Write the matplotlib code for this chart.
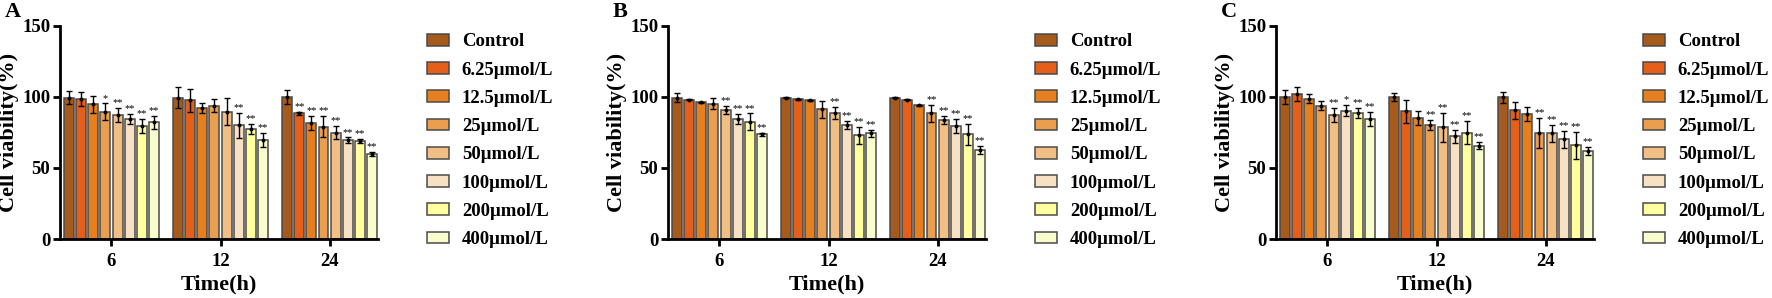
import matplotlib
matplotlib.use("Agg")
from matplotlib import pyplot as plt
import numpy as np

plt.rcParams['font.family'] = ['Liberation Serif', 'DejaVu Serif']
plt.rcParams['font.weight'] = 'bold'

times = ['6', '12', '24']
groups = ['Control', '6.25μmol/L', '12.5μmol/L', '25μmol/L',
          '50μmol/L', '100μmol/L', '200μmol/L', '400μmol/L']
colors = ['#A65A1C', '#E35F1A', '#E6801F', '#EA9F4F',
          '#F1BE84', '#F8E0C3', '#FFFF9E', '#F8FDCB']

# mean values, rows = time points, cols = groups
a_mean = [[99.6, 98.4, 95.0, 89.5, 87.2, 84.8, 79.4, 82.3],
          [99.6, 97.7, 92.0, 94.0, 89.5, 80.0, 77.3, 70.0],
          [100.0, 88.4, 81.8, 79.0, 75.0, 69.6, 69.0, 60.0]]
a_err = [[4.7, 5.0, 6.0, 6.0, 5.0, 3.5, 5.0, 4.5],
         [7.5, 8.0, 3.5, 4.5, 9.5, 9.0, 3.5, 5.0],
         [5.0, 1.0, 5.0, 7.5, 4.5, 2.0, 1.5, 1.5]]
a_sig = [['', '', '', '*', '**', '**', '**', '**'],
         ['', '', '', '', '', '**', '**', '**'],
         ['', '**', '**', '**', '**', '**', '**', '**']]

b_mean = [[99.6, 98.2, 96.3, 95.4, 90.7, 84.8, 82.5, 73.6],
          [99.6, 98.4, 97.7, 91.2, 88.8, 80.2, 73.1, 74.3],
          [99.6, 98.2, 94.2, 88.4, 83.7, 79.4, 73.6, 62.6]]
b_err = [[3.0, 0.5, 0.5, 4.0, 3.0, 3.5, 6.0, 1.0],
         [0.5, 0.5, 0.5, 6.0, 4.0, 3.0, 6.0, 2.5],
         [0.3, 0.5, 0.5, 6.0, 3.0, 5.0, 7.5, 3.0]]
b_sig = [['', '', '', '', '**', '**', '**', '**'],
         ['', '', '', '', '**', '**', '**', '**'],
         ['', '', '', '**', '**', '**', '**', '**']]

c_mean = [[100.0, 102.0, 98.8, 94.0, 87.5, 90.4, 88.7, 84.5],
          [100.0, 89.9, 85.2, 80.5, 78.6, 72.2, 75.0, 65.6],
          [99.8, 90.6, 88.2, 74.6, 74.6, 70.4, 66.1, 62.1]]
c_err = [[5.0, 5.0, 3.0, 3.0, 5.0, 4.0, 3.5, 5.0],
         [3.0, 8.0, 5.0, 3.5, 10.0, 4.5, 8.0, 2.5],
         [4.0, 6.0, 5.0, 10.5, 6.0, 6.0, 9.5, 3.0]]
c_sig = [['', '', '', '', '**', '*', '**', '**'],
         ['', '', '', '**', '**', '**', '**', '**'],
         ['', '', '', '**', '**', '**', '**', '**']]

panels = [('A', a_mean, a_err, a_sig, 60),
          ('B', b_mean, b_err, b_sig, 668),
          ('C', c_mean, c_err, c_sig, 1276)]

W, H = 1772, 298
fig = plt.figure(figsize=(W / 100, H / 100), dpi=100)

for letter, mean, err, sig, left in panels:
    ax = fig.add_axes([left / W, 1 - 239 / H, 318 / W, 213 / H])
    for g in range(len(times)):
        for j in range(len(groups)):
            x = g * 9 + j
            ax.bar(x, mean[g][j], width=0.82, color=colors[j],
                   edgecolor='#4a4a4a', linewidth=1.1,
                   label=groups[j] if g == 0 else None, zorder=2)
            ax.errorbar(x, mean[g][j], yerr=err[g][j], fmt='o', ms=1.8,
                        color='black', ecolor='black', elinewidth=1,
                        capsize=2.5, capthick=1, zorder=3)
            if sig[g][j]:
                ax.text(x, mean[g][j] + err[g][j] + 0.5, sig[g][j],
                        ha='center', va='bottom', fontsize=7.5,
                        fontweight='normal')
    ax.set_xlim(-0.75, 25.5)
    ax.set_ylim(0, 150)
    ax.set_yticks([0, 50, 100, 150])
    ax.set_xticks([3.5, 12.5, 21.5])
    ax.set_xticklabels(times)
    ax.tick_params(axis='both', width=2, length=5, labelsize=13.5)
    ax.tick_params(axis='x', pad=5)
    ax.tick_params(axis='y', pad=2)
    for s in ['top', 'right']:
        ax.spines[s].set_visible(False)
    for s in ['left', 'bottom']:
        ax.spines[s].set_linewidth(2)
    ax.set_xlabel('Time(h)', fontsize=16, fontweight='bold', labelpad=3)
    ax.set_ylabel('Cell viability(%)', fontsize=16, fontweight='bold',
                  labelpad=2)
    ax.text(-55 / 318, 1.065, letter, transform=ax.transAxes,
            fontsize=16, fontweight='bold', ha='left', va='center')
    ax.legend(loc='upper left', bbox_to_anchor=(1.154, 0.965), frameon=False,
              fontsize=13.5, handlelength=1.17, handleheight=0.59,
              handletextpad=0.69, labelspacing=0.6, borderpad=0,
              borderaxespad=0)

fig.savefig('out.png', dpi=100)
